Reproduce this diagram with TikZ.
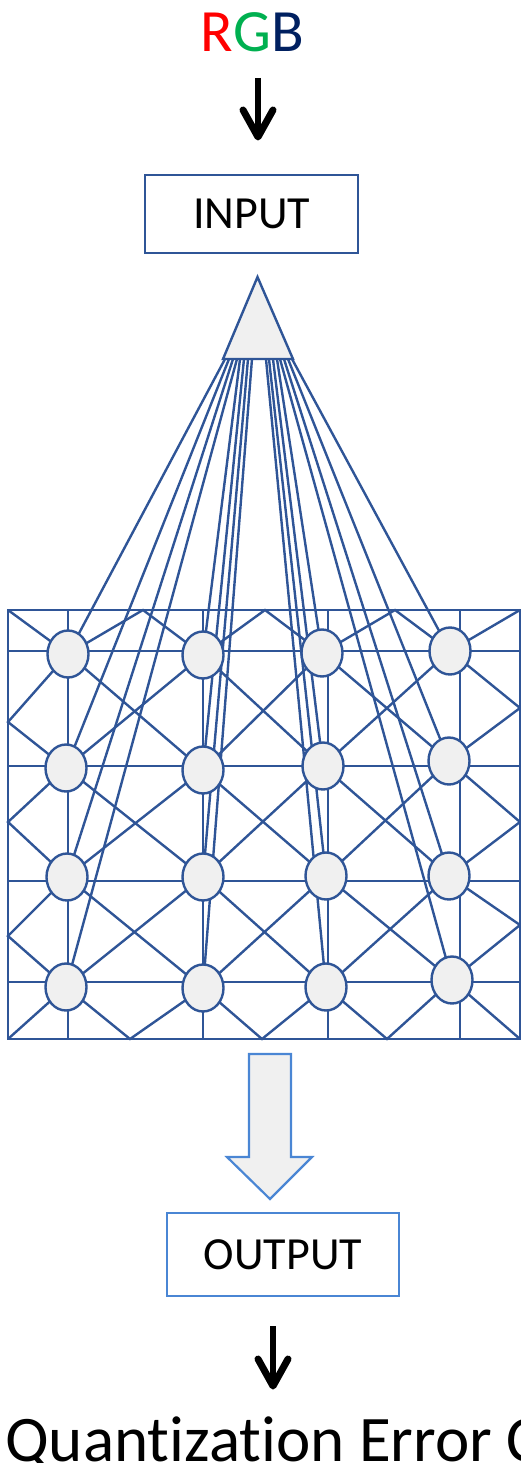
\documentclass[tikz,border=0pt]{standalone}
\usepackage{fontspec}
\setmainfont{Carlito}[Ligatures=NoCommon]
\usetikzlibrary{shapes.geometric,calc,backgrounds}
\definecolor{db}{RGB}{47,85,151}
\definecolor{lb}{RGB}{74,134,212}
\definecolor{nf}{RGB}{240,240,240}
\definecolor{rgbR}{RGB}{255,0,0}
\definecolor{rgbG}{RGB}{0,176,80}
\definecolor{rgbB}{RGB}{0,32,96}
\begin{document}
\begin{tikzpicture}[x=1pt,y=-1pt,
  gl/.style={draw=db,line width=2.4pt},
  som/.style={ellipse,draw=db,fill=nf,line width=2.4pt,minimum width=41pt,minimum height=47pt,inner sep=0pt},
  boxin/.style={draw=db,line width=2.2pt,minimum width=213pt,minimum height=78pt,inner sep=0pt,font=\fontsize{46}{50}\selectfont},
  boxout/.style={draw=lb,line width=2.2pt,minimum width=232pt,minimum height=83pt,inner sep=0pt,font=\fontsize{46}{50}\selectfont},
  blackarrow/.style={line width=6pt},
  blackhead/.style={line width=7pt,line cap=round,line join=round},
  hollow/.style={draw=lb,fill=nf,line width=2.2pt,line join=miter}
]
\useasboundingbox (0,0) rectangle (521,1463);
\clip (0,0) rectangle (521,1463);

% ---- text and boxes
\node[anchor=base,inner sep=0pt,font=\fontsize{60}{64}\selectfont] (rgb) at (252.5,52)
  {\textcolor{rgbR}{R}\textcolor{rgbG}{G}\textcolor{rgbB}{B}};
\node[boxin] (inp) at (251.5,214) {INPUT};
\node[boxout] (outp) at (283,1254.5) {OUTPUT};
\node[anchor=base west,inner sep=0pt,font=\fontsize{65}{68}\selectfont] (qe) at (5,1461) {Quantization Error C};

% ---- black arrows
\coordinate (a1s) at (258,78);  \coordinate (a1e) at (258,137);
\draw[blackarrow] (a1s) -- (a1e);
\draw[blackhead] ($(a1e)+(-15,-27)$) -- (a1e) -- ($(a1e)+(15,-27)$);
\coordinate (a2s) at (273,1326); \coordinate (a2e) at (273,1386);
\draw[blackarrow] (a2s) -- (a2e);
\draw[blackhead] ($(a2e)+(-15,-27)$) -- (a2e) -- ($(a2e)+(15,-27)$);

% ---- hollow arrow
\filldraw[hollow] (249,1054) -- (291,1054) -- (291,1157) -- (312,1157) -- (270,1199) -- (227,1157) -- (249,1157) -- cycle;

% ---- triangle
\coordinate (tA) at (257.5,277);
\coordinate (tBL) at (223,359);
\coordinate (tBR) at (293,359);

% ---- SOM nodes (n<column><row>)
\foreach \n/\x/\y in {11/68/654, 21/203/655, 31/322/653, 41/450/651,
                      12/66/768, 22/203/770, 32/323/766, 42/449/761,
                      13/67/877, 23/203/877, 33/326/876, 43/449/876,
                      14/66/987, 24/203/988, 34/326/987, 44/452/980}
  \node[som] (n\n) at (\x,\y) {};

% ---- boundary coordinates
\coordinate (cTL) at (8,610);   \coordinate (cTR) at (520,610);
\coordinate (cBL) at (8,1039);  \coordinate (cBR) at (520,1039);
\coordinate (t1) at (143,610); \coordinate (t2) at (265,610); \coordinate (t3) at (395,610);
\coordinate (b1) at (130,1039); \coordinate (b2) at (262,1039); \coordinate (b3) at (387,1039);
\coordinate (l1) at (8,722); \coordinate (l2) at (8,822); \coordinate (l3) at (8,936);
\coordinate (r1) at (520,708); \coordinate (r2) at (520,822); \coordinate (r3) at (520,925);

\begin{scope}[on background layer]
  % frame
  \draw[gl] (cTL) rectangle (cBR);
  % vertical grid lines
  \foreach \x in {68,203,328,460} {
    \coordinate (vt) at (\x,610); \coordinate (vb) at (\x,1039);
    \draw[gl] (vt) -- (vb);
  }
  % horizontal grid lines
  \foreach \y in {651,766,881,982} {
    \coordinate (hl) at (8,\y); \coordinate (hr) at (520,\y);
    \draw[gl] (hl) -- (hr);
  }
  % corners
  \draw[gl] (cTL) -- (n11.center);
  \draw[gl] (cTR) -- (n41.center);
  \draw[gl] (cBL) -- (n14.center);
  \draw[gl] (cBR) -- (n44.center);
  % zigzags on the edges
  \foreach \a/\m/\b in {11/t1/21, 21/t2/31, 31/t3/41,
                        14/b1/24, 24/b2/34, 34/b3/44,
                        11/l1/12, 12/l2/13, 13/l3/14,
                        41/r1/42, 42/r2/43, 43/r3/44}
    \draw[gl] (n\a.center) -- (\m) -- (n\b.center);
  % interior crosses
  \foreach \a/\b in {11/22, 21/12, 21/32, 31/22, 31/42, 41/32,
                     12/23, 22/13, 22/33, 32/23, 32/43, 42/33,
                     13/24, 23/14, 23/34, 33/24, 33/44, 43/34}
    \draw[gl] (n\a.center) -- (n\b.center);
  % fan from triangle
  \foreach \n/\k in {11/0.029, 12/0.086, 13/0.143, 14/0.2,
                     21/0.243, 22/0.3, 23/0.357, 24/0.414,
                     34/0.614, 33/0.657, 32/0.714, 31/0.771,
                     44/0.814, 43/0.871, 42/0.929, 41/0.986}
    \draw[gl] ($(tBL)!\k!(tBR)$) -- (n\n.center);
\end{scope}

\filldraw[draw=db,fill=nf,line width=2.4pt] (tA) -- (tBL) -- (tBR) -- cycle;
\end{tikzpicture}
\end{document}
